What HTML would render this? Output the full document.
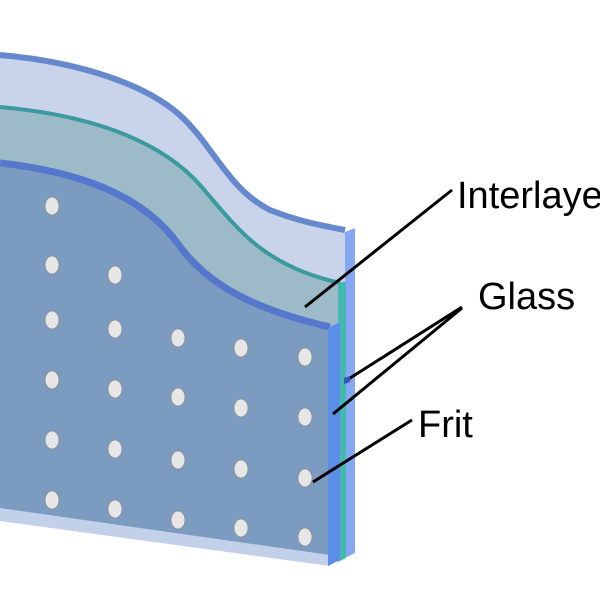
<!DOCTYPE html>
<html><head><style>html,body{margin:0;padding:0;background:#fff;width:600px;height:600px;overflow:hidden}</style></head>
<body>
<svg width="600" height="600" viewBox="0 0 600 600" xmlns="http://www.w3.org/2000/svg">
<path d="M0,55 C80,62 150,85 185,120 C215,150 230,190 270,210 C300,222 325,226 345,230 L345,555 L0,512 Z" fill="#c9d3ea"/>
<path d="M0,55 C80,62 150,85 185,120 C215,150 230,190 270,210 C300,222 325,226 345,230" fill="none" stroke="#6688cc" stroke-width="6"/>
<path d="M0,107 C90,115 160,140 200,185 C235,225 260,265 340,283 L340,560 L0,515 Z" fill="#9dbac8"/>
<path d="M0,107 C90,115 160,140 200,185 C235,225 260,265 340,283" fill="none" stroke="#3a9a9e" stroke-width="4"/>
<path d="M0,163 C80,172 140,195 175,240 C200,275 235,305 330,327 L330,566 L0,521 Z" fill="#c3d0ea"/>
<path d="M0,163 C80,172 140,195 175,240 C200,275 235,305 330,327 L330,555 L0,508 Z" fill="#7b9cc0"/>
<path d="M0,163 C80,172 140,195 175,240 C200,275 235,305 330,327" fill="none" stroke="#5577cc" stroke-width="7"/>
<polygon points="345,232 355,228 355,553 345,558" fill="#86a8f2"/>
<polygon points="338,282 346,282 346,558 338,562" fill="#45b8b0"/>
<polygon points="328,328 340,322 340,560 328,566" fill="#5b8ee6"/>
<g fill="#e6e6e6" stroke="#8a8a8a" stroke-width="0.8">
<ellipse cx="52" cy="206" rx="7" ry="9"/>
<ellipse cx="52" cy="265" rx="7" ry="9"/><ellipse cx="115" cy="275" rx="7" ry="9"/>
<ellipse cx="52" cy="320" rx="7" ry="9"/><ellipse cx="115" cy="329" rx="7" ry="9"/><ellipse cx="178" cy="338" rx="7" ry="9"/><ellipse cx="241" cy="348" rx="7" ry="9"/><ellipse cx="305" cy="357" rx="7" ry="9"/>
<ellipse cx="52" cy="380" rx="7" ry="9"/><ellipse cx="115" cy="389" rx="7" ry="9"/><ellipse cx="178" cy="397" rx="7" ry="9"/><ellipse cx="241" cy="408" rx="7" ry="9"/><ellipse cx="305" cy="417" rx="7" ry="9"/>
<ellipse cx="52" cy="440" rx="7" ry="9"/><ellipse cx="115" cy="449" rx="7" ry="9"/><ellipse cx="178" cy="460" rx="7" ry="9"/><ellipse cx="241" cy="469" rx="7" ry="9"/><ellipse cx="305" cy="478" rx="7" ry="9"/>
<ellipse cx="52" cy="500" rx="7" ry="9"/><ellipse cx="115" cy="509" rx="7" ry="9"/><ellipse cx="178" cy="520" rx="7" ry="9"/><ellipse cx="241" cy="528" rx="7" ry="9"/><ellipse cx="305" cy="537" rx="7" ry="9"/>
</g>
<g stroke="#000" stroke-width="3" fill="none">
<line x1="452" y1="190" x2="305" y2="307"/>
<line x1="462" y1="307" x2="347" y2="380"/>
<line x1="462" y1="308" x2="333" y2="414"/>
<line x1="412" y1="420" x2="313" y2="482"/>
</g>
<polygon points="344,378 350,376 350,382 344,384" fill="#3355bb"/>
<g font-family="Liberation Sans, sans-serif" font-size="38" fill="#000">
<text x="457" y="208">Interlayer</text>
<text x="478" y="309">Glass</text>
<text x="418" y="437">Frit</text>
</g>
</svg>
</body></html>
